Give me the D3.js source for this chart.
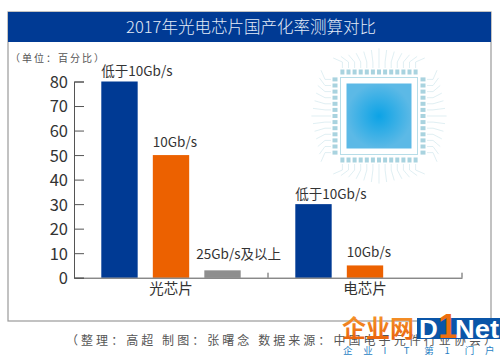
<!DOCTYPE html>
<html>
<head>
<meta charset="utf-8">
<script src="https://cdn.jsdelivr.net/npm/d3@7"></script>
<style>
html, body { margin: 0; padding: 0; background: #fff; }
text { font-family: "Noto Sans CJK SC", "Noto Sans", sans-serif; }
</style>
</head>
<body>
<div id="chart"></div>
<script>
var titleText = '2017年光电芯片国产化率测算对比';
var unitText = '（单位：百分比）';
var sourceText = '（整理：高超  制图：张曙念  数据来源：中国电子元件行业协会）';

var groups = ['光芯片', '电芯片'];
var series = ['低于10Gb/s', '10Gb/s', '25Gb/s及以上'];
var photonicValues = [80, 50, 3];
var electronicValues = [30, 5, null];
var yTicks = [0, 10, 20, 30, 40, 50, 60, 70, 80];
var seriesColors = ['#003a94', '#ec6100', '#8e8e8e'];
var footerChars = ['企', '业', 'I', 'T', '第', '1', '门', '户'];

var svg = d3.select('#chart').append('svg')
    .attr('width', 500)
    .attr('height', 356)
    .style('display', 'block');

// frame and header
svg.append('rect')
    .attr('x', 8).attr('y', 12)
    .attr('width', 483).attr('height', 309)
    .attr('fill', '#fff')
    .attr('stroke', '#9a9a9a')
    .attr('stroke-width', 1.2);
svg.append('rect')
    .attr('x', 8).attr('y', 12)
    .attr('width', 483).attr('height', 30)
    .attr('fill', '#003a94');
svg.append('text')
    .attr('x', 251).attr('y', 33)
    .attr('text-anchor', 'middle')
    .attr('font-size', 16.5)
    .attr('font-weight', 300)
    .attr('fill', '#e3ebf7')
    .text(titleText);
svg.append('text')
    .attr('x', 10).attr('y', 61.5)
    .attr('font-size', 10)
    .attr('textLength', 94)
    .attr('fill', '#555')
    .text(unitText);

drawChip(svg.append('g'), 379, 116);

// scales
var x0 = d3.scaleBand().domain(groups).range([74, 462]);
var x1 = d3.scaleBand().domain(series).range([0, x0.bandwidth()])
    .paddingInner(0.294).paddingOuter(0.53).align(0.5);
var y = d3.scaleLinear().domain([0, 80]).range([277.7, 81.5]);

var rows = [photonicValues, electronicValues];

// the labels sit left aligned on the bars, the long one hangs out to the left
var labelShift = {'低于10Gb/s': 0, '10Gb/s': 0, '25Gb/s及以上': -8};
var labelGap = {'低于10Gb/s': 5.5, '10Gb/s': 8, '25Gb/s及以上': 11};

// bars
var groupG = svg.selectAll('.group')
    .data(groups)
    .enter().append('g')
    .attr('class', 'group')
    .attr('transform', function (d) { return 'translate(' + x0(d) + ',0)'; });

var cells = groupG.selectAll('.cell')
    .data(function (d, i) {
        return series.map(function (s, j) {
            return {series: s, value: rows[i][j], color: seriesColors[j]};
        }).filter(function (c) { return c.value !== null; });
    })
    .enter().append('g')
    .attr('class', 'cell');

cells.append('rect')
    .attr('x', function (d) { return x1(d.series); })
    .attr('y', function (d) { return y(d.value); })
    .attr('width', x1.bandwidth())
    .attr('height', function (d) { return y(0) - y(d.value); })
    .attr('fill', function (d) { return d.color; });

cells.append('text')
    .attr('x', function (d) { return x1(d.series) + labelShift[d.series]; })
    .attr('y', function (d) { return y(d.value) - labelGap[d.series]; })
    .attr('font-size', 13.5)
    .attr('fill', '#333')
    .text(function (d) { return d.series; });

// y axis
var yAxis = svg.append('g')
    .attr('transform', 'translate(74,0)')
    .call(d3.axisRight(y).tickValues(yTicks).tickSize(10).tickFormat(''));
yAxis.selectAll('path, line').attr('stroke', '#555').attr('stroke-width', 1);
yAxis.selectAll('.tick').append('text')
    .attr('x', -6)
    .attr('dy', '0.36em')
    .attr('text-anchor', 'end')
    .attr('font-size', 16.5)
    .attr('fill', '#333')
    .text(function (d) { return d; });

// x axis
var xAxis = svg.append('g')
    .attr('transform', 'translate(0,' + y(0) + ')')
    .call(d3.axisBottom(x0).tickSize(0).tickPadding(6));
xAxis.select('.domain').attr('stroke', '#555').attr('stroke-width', 1);
xAxis.selectAll('text')
    .attr('font-size', 14.5)
    .attr('fill', '#333');
svg.append('g').selectAll('line')
    .data(x0.domain().slice(1).map(function (d) { return x0(d); }).concat([x0.range()[1]]))
    .enter().append('line')
    .attr('x1', function (d) { return d; })
    .attr('x2', function (d) { return d; })
    .attr('y1', y(0) - 5)
    .attr('y2', y(0))
    .attr('stroke', '#555');

// source line
svg.append('text')
    .attr('x', 66).attr('y', 344.5)
    .attr('font-size', 12)
    .attr('textLength', 430)
    .attr('fill', '#555')
    .text(sourceText);

// watermark
var wmGrad = svg.append('defs').append('linearGradient')
    .attr('id', 'wmFill')
    .attr('x1', 0).attr('y1', 0).attr('x2', 0).attr('y2', 1);
wmGrad.append('stop').attr('offset', '0%').attr('stop-color', '#f7a030');
wmGrad.append('stop').attr('offset', '100%').attr('stop-color', '#e85a08');

svg.append('text')
    .attr('x', 342).attr('y', 337)
    .attr('font-size', 24)
    .attr('font-weight', 700)
    .attr('textLength', 72)
    .attr('lengthAdjust', 'spacingAndGlyphs')
    .attr('fill', 'url(#wmFill)')
    .text('企业网');
svg.append('rect')
    .attr('x', 417).attr('y', 318)
    .attr('width', 83).attr('height', 21)
    .attr('fill', '#0a55a8');
svg.append('text')
    .attr('x', 419).attr('y', 338)
    .attr('font-size', 26)
    .attr('font-weight', 700)
    .attr('fill', '#fff')
    .style('font-family', '"Liberation Sans", sans-serif')
    .text('D');
svg.append('text')
    .attr('x', 438).attr('y', 338)
    .attr('font-size', 35)
    .attr('font-weight', 700)
    .attr('fill', '#ee6f10')
    .style('font-family', '"Liberation Sans", sans-serif')
    .text('1');
svg.append('text')
    .attr('x', 455).attr('y', 338)
    .attr('font-size', 26)
    .attr('font-weight', 700)
    .attr('textLength', 44)
    .attr('lengthAdjust', 'spacingAndGlyphs')
    .attr('fill', '#fff')
    .style('font-family', '"Liberation Sans", sans-serif')
    .text('Net');

var footerX = d3.scalePoint().domain(d3.range(footerChars.length)).range([343, 485]);
svg.append('g').selectAll('text')
    .data(footerChars)
    .enter().append('text')
    .attr('x', function (d, i) { return footerX(i); })
    .attr('y', 353.5)
    .attr('font-size', 9.5)
    .attr('fill', '#2a7fc4')
    .text(function (d) { return d; });

// decorative chip picture, top right
function drawChip(g, cx, cy) {
    var defs = svg.append('defs');
    var grad = defs.append('radialGradient').attr('id', 'chipFill');
    grad.append('stop').attr('offset', '0%').attr('stop-color', '#0ca3e6');
    grad.append('stop').attr('offset', '100%').attr('stop-color', '#5cb9e6');

    var pins = d3.range(-6, 7);
    var spacing = 6.1;

    // traces spreading out from the pins
    pins.forEach(function (p) {
        var o = p * spacing;
        var far = 58 + (6 - Math.abs(p)) * 1.6;
        var spread = o * 1.25;
        [
            [cx + o, cy - 48, cx + o, cy - 54, cx + spread, cy - far],
            [cx + o, cy + 48, cx + o, cy + 54, cx + spread, cy + far],
            [cx - 48, cy + o, cx - 54, cy + o, cx - far, cy + spread],
            [cx + 48, cy + o, cx + 54, cy + o, cx + far, cy + spread]
        ].forEach(function (t) {
            g.append('polyline')
                .attr('points', t[0] + ',' + t[1] + ' ' + t[2] + ',' + t[3] + ' ' + t[4] + ',' + t[5])
                .attr('fill', 'none')
                .attr('stroke', '#d3e8ee')
                .attr('stroke-width', 0.7);
        });
        // pins on four sides
        g.append('rect').attr('x', cx + o - 2).attr('y', cy - 46.5).attr('width', 4).attr('height', 5).attr('fill', '#a9d3df');
        g.append('rect').attr('x', cx + o - 2).attr('y', cy + 41.5).attr('width', 4).attr('height', 5).attr('fill', '#a9d3df');
        g.append('rect').attr('x', cx - 46.5).attr('y', cy + o - 2).attr('width', 5).attr('height', 4).attr('fill', '#a9d3df');
        g.append('rect').attr('x', cx + 41.5).attr('y', cy + o - 2).attr('width', 5).attr('height', 4).attr('fill', '#a9d3df');
    });

    g.append('rect')
        .attr('x', cx - 38.5).attr('y', cy - 38.5)
        .attr('width', 77).attr('height', 77)
        .attr('fill', '#fff')
        .attr('stroke', '#b7dde8')
        .attr('stroke-width', 1);
    g.append('rect')
        .attr('x', cx - 32.5).attr('y', cy - 32.5)
        .attr('width', 65).attr('height', 65)
        .attr('fill', 'url(#chipFill)');
}
</script>
</body>
</html>
